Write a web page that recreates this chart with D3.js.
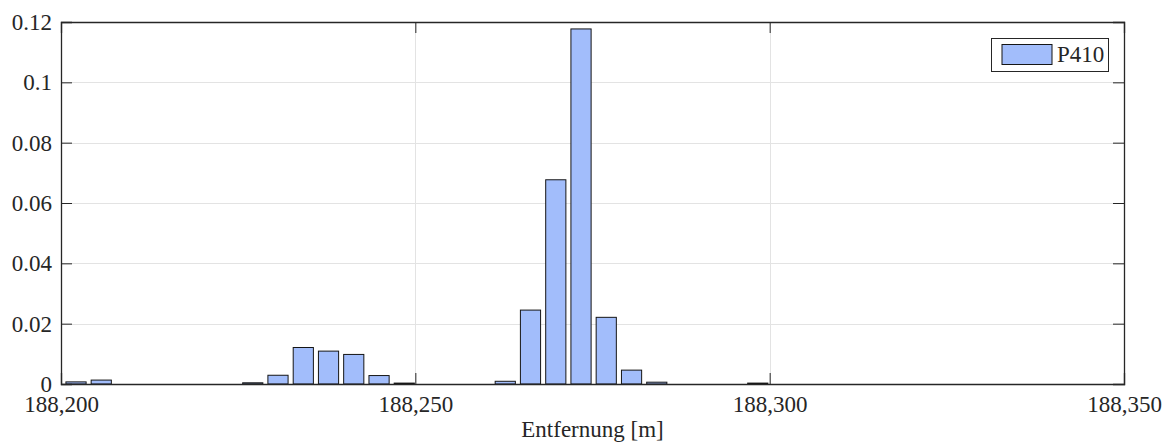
<!DOCTYPE html>
<html>
<head>
<meta charset="utf-8">
<script src="https://cdn.jsdelivr.net/npm/d3@7/dist/d3.min.js"></script>
<style>
  html, body { margin: 0; padding: 0; background: #fff; }
  svg { display: block; }
</style>
</head>
<body>
<svg id="chart" width="1171" height="446"></svg>
<script>
// Histogram bin centres (distance in metres)
const binCenters = [
  188202.12, 188205.68, 188209.25, 188212.81, 188216.37, 188219.94, 188223.50,
  188227.06, 188230.62, 188234.19, 188237.75, 188241.31, 188244.88, 188248.44,
  188252.00, 188255.57, 188259.13, 188262.69, 188266.25, 188269.82, 188273.38,
  188276.94, 188280.51, 188284.07, 188287.63, 188291.20, 188294.76, 188298.32,
  188301.88, 188305.45, 188309.01, 188312.57, 188316.14, 188319.70, 188323.26,
  188326.83, 188330.39, 188333.95, 188337.51, 188341.08, 188344.64, 188348.20
];
// Relative frequency per bin, series P410
const p410 = [
  0.0007, 0.0013, 0, 0, 0, 0, 0,
  0.0004, 0.0029, 0.0121, 0.0109, 0.0098, 0.0028, 0.0003,
  0, 0, 0, 0.0009, 0.0245, 0.0677, 0.1177,
  0.0221, 0.0046, 0.0006, 0, 0, 0, 0.0003,
  0, 0, 0, 0, 0, 0, 0,
  0, 0, 0, 0, 0, 0, 0
];
const seriesName = "P410";
const xTicks = [188200, 188250, 188300, 188350];
const yTicks = [0, 0.02, 0.04, 0.06, 0.08, 0.1, 0.12];
const xLabel = "Entfernung [m]";

const svg = d3.select("#chart");
const plot = { left: 61, right: 1124, top: 22, bottom: 384 };
const axisColor = "#262626", gridColor = "#e3e3e3";
const barFill = "#a2bdfb", barEdge = "#151515";
const fontPx = "23px";
const fontName = "\"Liberation Serif\"";

const x = d3.scaleLinear().domain([188200, 188350]).range([plot.left, plot.right]);
const y = d3.scaleLinear().domain([0, 0.12]).range([plot.bottom, plot.top]);

const binWidth = binCenters[1] - binCenters[0];
const barW = x(binCenters[0] + binWidth * 0.4) - x(binCenters[0] - binWidth * 0.4);

const fmtX = d3.format(",d");
const fmtY = v => (v === 0 ? "0" : String(+v.toFixed(2)));

function serif(sel) {
  return sel.style("font-family", fontName).style("font-size", fontPx).style("fill", axisColor);
}

// grid
const grid = svg.append("g");
grid.selectAll("line.gy").data(yTicks.slice(1, -1)).join("line")
  .attr("x1", plot.left).attr("x2", plot.right)
  .attr("y1", d => Math.round(y(d)) + 0.5).attr("y2", d => Math.round(y(d)) + 0.5)
  .attr("stroke", gridColor).attr("stroke-width", 1);
grid.selectAll("line.gx").data(xTicks.slice(1, -1)).join("line")
  .attr("x1", d => Math.round(x(d)) + 0.5).attr("x2", d => Math.round(x(d)) + 0.5)
  .attr("y1", plot.top).attr("y2", plot.bottom)
  .attr("stroke", gridColor).attr("stroke-width", 1);

// bars
const data = binCenters.map((c, i) => ({ c, v: p410[i] }));
svg.append("g").selectAll("rect").data(data).join("rect")
  .attr("x", d => x(d.c) - barW / 2)
  .attr("y", d => y(d.v))
  .attr("width", barW)
  .attr("height", d => y(0) - y(d.v))
  .attr("fill", barFill)
  .attr("stroke", barEdge)
  .attr("stroke-width", 1);

// axes with inward ticks on all four sides
const tickLen = 11;
const axB = svg.append("g").attr("transform", `translate(0,${plot.bottom})`)
  .call(d3.axisBottom(x).tickValues(xTicks).tickSize(-tickLen).tickPadding(0).tickFormat(fmtX));
const axT = svg.append("g").attr("transform", `translate(0,${plot.top})`)
  .call(d3.axisTop(x).tickValues(xTicks).tickSize(-tickLen).tickFormat(""));
const axL = svg.append("g").attr("transform", `translate(${plot.left},0)`)
  .call(d3.axisLeft(y).tickValues(yTicks).tickSize(-tickLen).tickPadding(0).tickFormat(fmtY));
const axR = svg.append("g").attr("transform", `translate(${plot.right},0)`)
  .call(d3.axisRight(y).tickValues(yTicks).tickSize(-tickLen).tickFormat(""));

[axB, axT, axL, axR].forEach(a => {
  a.select(".domain").attr("stroke", axisColor).attr("stroke-width", 1.3);
  a.selectAll(".tick line").attr("stroke", axisColor).attr("stroke-width", 1);
  serif(a.selectAll(".tick text"));
});
axB.selectAll(".tick text").attr("dy", null).attr("y", 28);
axL.selectAll(".tick text").attr("x", -9).attr("dy", "0.32em");

// x axis label
serif(svg.append("text"))
  .attr("x", (plot.left + plot.right) / 2).attr("y", 437)
  .attr("text-anchor", "middle")
  .text(xLabel);

// legend
const lg = svg.append("g");
lg.append("rect").attr("x", 991.5).attr("y", 38.5).attr("width", 117).attr("height", 33)
  .attr("fill", "#fff").attr("stroke", axisColor).attr("stroke-width", 1);
lg.append("rect").attr("x", 1002).attr("y", 44.5).attr("width", 50).attr("height", 20)
  .attr("fill", barFill).attr("stroke", barEdge).attr("stroke-width", 1);
serif(lg.append("text")).attr("x", 1057).attr("y", 62).text(seriesName);
</script>
</body>
</html>
